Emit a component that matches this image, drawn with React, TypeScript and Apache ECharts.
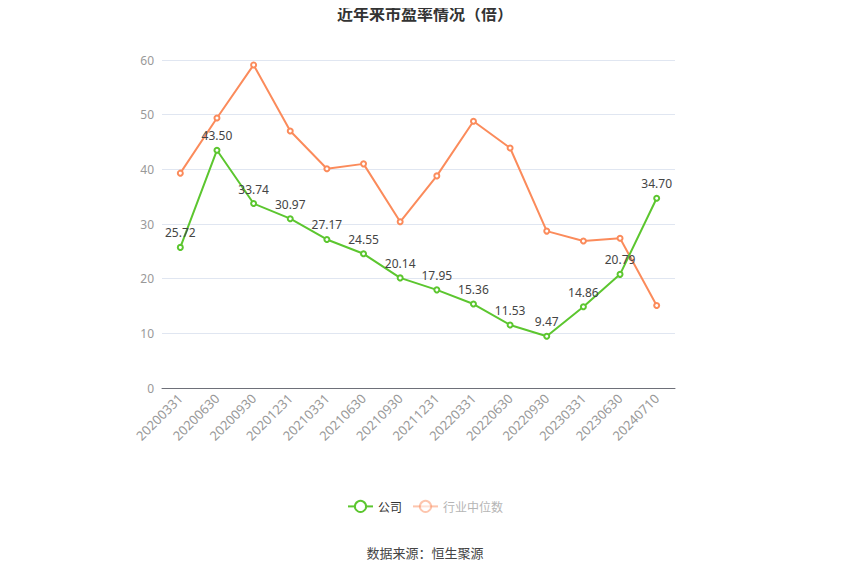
import { useEffect, useRef } from 'react';
import * as echarts from 'echarts';

const categories = [
  '20200331', '20200630', '20200930', '20201231', '20210331', '20210630', '20210930',
  '20211231', '20220331', '20220630', '20220930', '20230331', '20230630', '20240710',
];
const companyPE = [25.72, 43.5, 33.74, 30.97, 27.17, 24.55, 20.14, 17.95, 15.36, 11.53, 9.47, 14.86, 20.79, 34.7];
const industryPE = [39.3, 49.4, 59.1, 47.0, 40.1, 41.0, 30.4, 38.8, 48.8, 43.9, 28.7, 26.9, 27.4, 15.1];

const GREEN = '#5cc62f';
const ORANGE = '#fb8b5b';

export default function App() {
  const chartRef = useRef<HTMLDivElement>(null);

  useEffect(() => {
    if (!chartRef.current) return;
    const chart = echarts.init(chartRef.current, undefined, { renderer: 'svg' });

    const option = {
      animation: false,
      backgroundColor: '#fff',
      title: {
        text: '近年来市盈率情况（倍）',
        left: 'center',
        top: 0,
        textStyle: { fontSize: 16, fontWeight: 'bold', color: '#333', fontFamily: 'Noto Sans CJK SC' },
      },
      grid: { left: 162, right: 175, top: 60, bottom: 187 },
      legend: {
        bottom: 57,
        left: 'center',
        itemWidth: 25,
        itemHeight: 14,
        itemGap: 10,
        textStyle: { fontFamily: 'Noto Sans CJK SC', fontSize: 12 },
        data: [
          { name: '公司', textStyle: { color: '#333' } },
          { name: '行业中位数', textStyle: { color: '#b5b5b5' }, itemStyle: { opacity: 0.5 }, lineStyle: { opacity: 0.5 } },
        ],
      },
      graphic: [
        {
          type: 'text',
          left: 'center',
          top: 546,
          style: { text: '数据来源：恒生聚源', fontSize: 13, fill: '#444', fontFamily: 'Noto Sans CJK SC' },
        },
      ],
      xAxis: {
        type: 'category',
        data: categories,
        boundaryGap: true,
        axisLine: { lineStyle: { color: '#6e7079' } },
        axisTick: { alignWithLabel: true, lineStyle: { color: '#6e7079' } },
        axisLabel: { rotate: 45, color: '#999', fontSize: 13, interval: 0, fontFamily: 'Noto Sans' },
      },
      yAxis: {
        type: 'value',
        min: 0,
        max: 60,
        interval: 10,
        axisLabel: { color: '#999', fontSize: 12, fontFamily: 'Noto Sans' },
        splitLine: { lineStyle: { color: '#e0e6f1' } },
      },
      series: [
        {
          name: '公司',
          type: 'line',
          data: companyPE,
          symbol: 'emptyCircle',
          symbolSize: 5,
          itemStyle: { color: GREEN },
          lineStyle: { width: 2, color: GREEN },
          label: {
            show: true,
            position: 'top',
            color: '#444',
            fontSize: 12,
            fontFamily: 'Noto Sans',
            formatter: (p: { value: number }) => p.value.toFixed(2),
          },
          z: 3,
        },
        {
          name: '行业中位数',
          type: 'line',
          data: industryPE,
          symbol: 'emptyCircle',
          symbolSize: 5,
          itemStyle: { color: ORANGE },
          lineStyle: { width: 2, color: ORANGE },
          z: 2,
        },
      ],
    };

    chart.setOption(option);
    return () => chart.dispose();
  }, []);

  return <div ref={chartRef} style={{ width: 850, height: 575, margin: -8 }} />;
}
